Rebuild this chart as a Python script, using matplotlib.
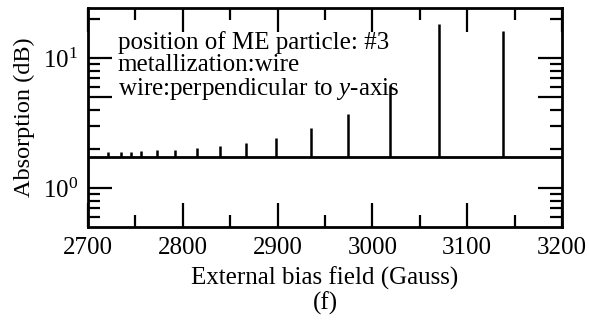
import matplotlib
matplotlib.use("Agg")
import matplotlib.pyplot as plt
from matplotlib.ticker import FixedLocator, FixedFormatter

plt.rcParams['font.family'] = ['Liberation Serif', 'DejaVu Serif']
plt.rcParams['mathtext.fontset'] = 'custom'
plt.rcParams['mathtext.rm'] = 'Liberation Serif'
plt.rcParams['mathtext.it'] = 'Liberation Serif:italic'

# Data
peak_fields = [2721, 2734.5, 2745, 2755.5, 2772.5, 2791.5, 2814.5, 2839, 2867, 2898,
               2935, 2974, 3019, 3070, 3137.5]
peak_heights = [1.9, 1.9, 1.9, 1.92, 1.95, 1.97, 2.05, 2.12, 2.22, 2.41,
                2.92, 3.75, 6.2, 18.4, 16.3]
baseline = 1.75
field_range = [2700, 3200]

xticks = [2700, 2800, 2900, 3000, 3100, 3200]
ymajor = [1, 5, 10]
ymajor_labels = ['$10^0$', '', '$10^1$']
yminor = [0.6, 0.7, 0.8, 0.9, 2, 3, 4, 6, 7, 8, 9, 20]

notes = ['position of ME particle: #3', 'metallization:wire', 'wire:perpendicular to $y$-axis']

fig = plt.figure(figsize=(5.89, 3.20), dpi=100)
ax = fig.add_axes([88/589, 1-227/320, 474/589, 219/320])

ax.plot(field_range, [baseline, baseline], color='black', lw=2.0, solid_capstyle='butt', zorder=3)
ax.vlines(peak_fields, baseline, peak_heights, color='black', lw=1.8, zorder=3)

ax.set_yscale('log')
ax.set_xlim(2700, 3200)
ax.set_ylim(0.5, 24.5)

ax.set_xticks(xticks)
ax.set_xticklabels([str(t) for t in xticks])
ax.xaxis.set_minor_locator(FixedLocator([2750, 2850, 2950, 3050, 3150]))
ax.yaxis.set_major_locator(FixedLocator(ymajor))
ax.yaxis.set_major_formatter(FixedFormatter(ymajor_labels))
ax.yaxis.set_minor_locator(FixedLocator(yminor))
ax.yaxis.set_minor_formatter(FixedFormatter([''] * len(yminor)))

ax.tick_params(which='both', direction='in', top=True, right=True, width=1.6, labelsize=18)
ax.tick_params(which='major', length=17, pad=7)
ax.tick_params(which='minor', length=8.5)
for s in ax.spines.values():
    s.set_linewidth(2.0)

ax.set_xlabel('External bias field (Gauss)', fontsize=18, labelpad=6)
ax.set_ylabel('Absorption (dB)', fontsize=17.5, labelpad=6)

ax.text(0.063, 0.896, '\n'.join(notes),
        transform=ax.transAxes, ha='left', va='top', fontsize=18, linespacing=1.0, zorder=2)

fig.text(325/589, 1-303/320, '(f)', ha='center', va='center', fontsize=18)

fig.savefig('out.png', dpi=100)
